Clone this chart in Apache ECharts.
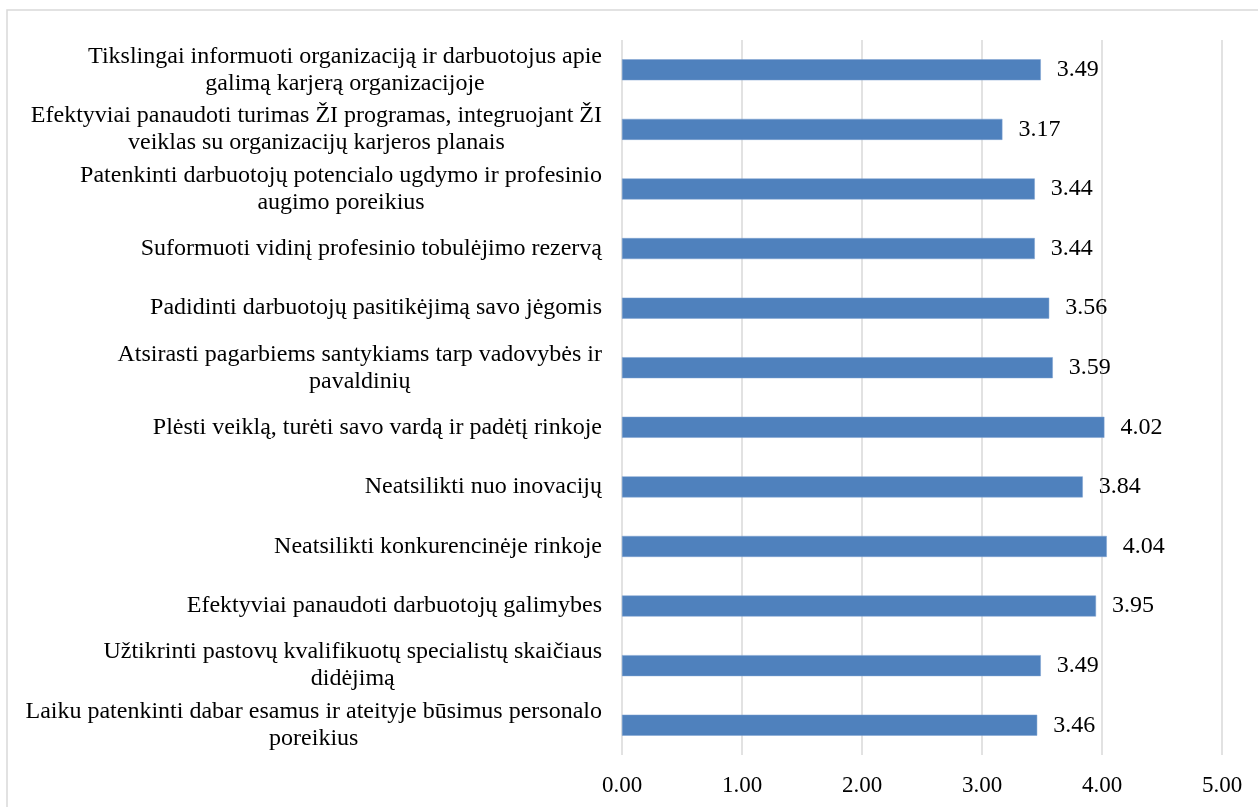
<!DOCTYPE html>
<html>
<head>
<meta charset="utf-8">
<script src="https://cdn.jsdelivr.net/npm/echarts@6/dist/echarts.min.js"></script>
<style>
  html, body { margin: 0; padding: 0; background: #fff; }
  #chart { width: 1258px; height: 807px; }
</style>
</head>
<body>
<div id="chart"></div>
<script>
// Goals of career planning, listed top to bottom
const categories = [
  'Tikslingai informuoti organizaciją ir darbuotojus apie\ngalimą karjerą organizacijoje',
  'Efektyviai panaudoti turimas ŽI programas, integruojant ŽI\nveiklas su organizacijų karjeros planais',
  'Patenkinti darbuotojų potencialo ugdymo ir profesinio\naugimo poreikius',
  'Suformuoti vidinį profesinio tobulėjimo rezervą',
  'Padidinti darbuotojų pasitikėjimą savo jėgomis',
  'Atsirasti pagarbiems santykiams tarp vadovybės ir\npavaldinių',
  'Plėsti veiklą, turėti savo vardą ir padėtį rinkoje',
  'Neatsilikti nuo inovacijų',
  'Neatsilikti konkurencinėje rinkoje',
  'Efektyviai panaudoti darbuotojų galimybes',
  'Užtikrinti pastovų kvalifikuotų specialistų skaičiaus\ndidėjimą',
  'Laiku patenkinti dabar esamus ir ateityje būsimus personalo\nporeikius'
];

// Mean scores
const scores = [3.49, 3.17, 3.44, 3.44, 3.56, 3.59, 4.02, 3.84, 4.04, 3.95, 3.49, 3.46];

// Value axis range
const axisMin = 0;
const axisMax = 5;
const axisStep = 1;

const FONT = '"Liberation Serif", "Times New Roman", serif';

const chart = echarts.init(document.getElementById('chart'), null, { renderer: 'canvas' });

chart.setOption({
  animation: false,
  backgroundColor: '#ffffff',
  textStyle: { fontFamily: FONT },
  graphic: [{
    type: 'rect',
    silent: true,
    z: -10,
    shape: { x: 7, y: 10, width: 1320, height: 900 },
    style: { fill: 'none', stroke: '#d9d9d9', lineWidth: 1.5 }
  }],
  grid: { left: 622, right: 36, top: 40, bottom: 52, containLabel: false },
  xAxis: {
    type: 'value',
    min: axisMin,
    max: axisMax,
    interval: axisStep,
    axisLine: { show: false },
    axisTick: { show: false },
    splitLine: { show: true, lineStyle: { color: '#d9d9d9', width: 1.5 } },
    axisLabel: {
      margin: 19,
      fontFamily: FONT,
      fontSize: 23,
      color: '#000',
      formatter: v => v.toFixed(2)
    }
  },
  yAxis: {
    type: 'category',
    data: categories,
    inverse: true,
    axisLine: { show: false },
    axisTick: { show: false },
    splitLine: { show: false },
    axisLabel: {
      margin: 20,
      interval: 0,
      formatter: v => '{c|' + v + '}',
      rich: {
        c: {
          align: 'center',
          fontFamily: FONT,
          fontSize: 24,
          lineHeight: 27,
          color: '#000'
        }
      }
    }
  },
  series: [{
    type: 'bar',
    data: scores,
    barWidth: 21,
    itemStyle: { color: '#4f81bd', borderColor: '#7da0d0', borderWidth: 0.5 },
    label: {
      show: true,
      position: 'right',
      distance: 16,
      fontFamily: FONT,
      fontSize: 24,
      color: '#000',
      formatter: p => p.value.toFixed(2)
    }
  }]
});
</script>
</body>
</html>
